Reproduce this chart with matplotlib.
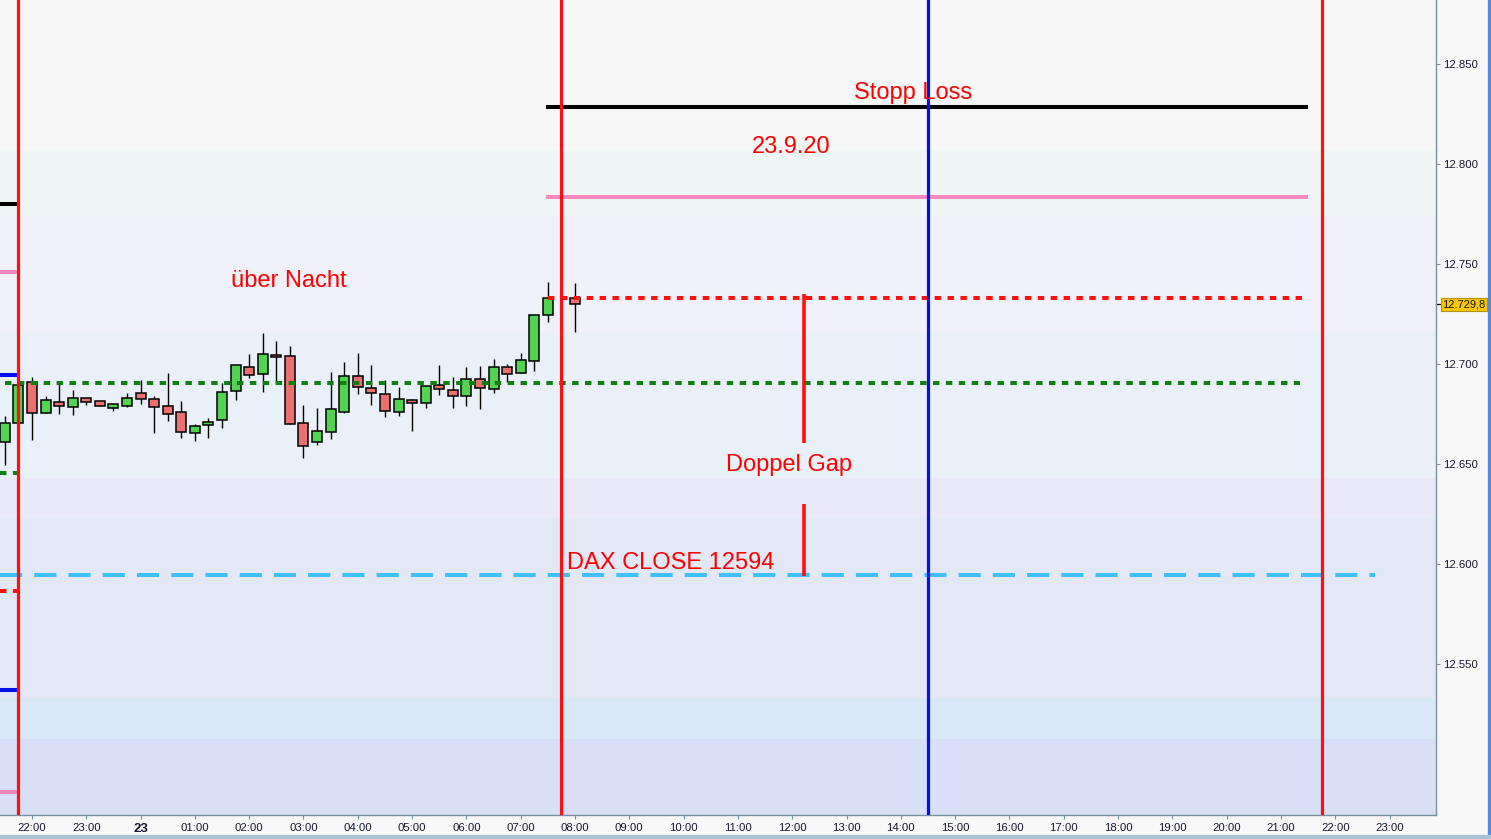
import matplotlib
matplotlib.use("Agg")
import matplotlib.pyplot as plt
import matplotlib.dates as mdates
import pandas as pd
from matplotlib.patches import Rectangle
from matplotlib.transforms import blended_transform_factory

plt.rcParams['font.family'] = ['Liberation Sans', 'DejaVu Sans']

# ---- data: DAX 15-min candles, 22./23.9.2020 ----
times = ["2020-09-22 21:30", "2020-09-22 21:45", "2020-09-22 22:00", "2020-09-22 22:15",
         "2020-09-22 22:30", "2020-09-22 22:45", "2020-09-22 23:00", "2020-09-22 23:15",
         "2020-09-22 23:30", "2020-09-22 23:45", "2020-09-23 00:00", "2020-09-23 00:15",
         "2020-09-23 00:30", "2020-09-23 00:45", "2020-09-23 01:00", "2020-09-23 01:15",
         "2020-09-23 01:30", "2020-09-23 01:45", "2020-09-23 02:00", "2020-09-23 02:15",
         "2020-09-23 02:30", "2020-09-23 02:45", "2020-09-23 03:00", "2020-09-23 03:15",
         "2020-09-23 03:30", "2020-09-23 03:45", "2020-09-23 04:00", "2020-09-23 04:15",
         "2020-09-23 04:30", "2020-09-23 04:45", "2020-09-23 05:00", "2020-09-23 05:15",
         "2020-09-23 05:30", "2020-09-23 05:45", "2020-09-23 06:00", "2020-09-23 06:15",
         "2020-09-23 06:30", "2020-09-23 06:45", "2020-09-23 07:00", "2020-09-23 07:15",
         "2020-09-23 07:30", "2020-09-23 08:00"]
opens = [12661.0, 12670.7, 12691.2, 12675.7, 12680.8, 12678.3, 12682.8, 12681.3, 12677.8, 12679.2,
         12685.3, 12682.3, 12678.8, 12676.2, 12665.3, 12669.3, 12671.8, 12686.3, 12698.3, 12694.8,
         12704.5, 12703.8, 12670.3, 12660.8, 12665.8, 12676.2, 12693.8, 12687.8, 12684.8, 12675.8,
         12681.8, 12680.3, 12689.3, 12686.8, 12683.8, 12692.3, 12687.3, 12698.3, 12695.3, 12701.3,
         12724.3, 12732.8]
highs = [12674.0, 12690.0, 12693.3, 12684.0, 12691.5, 12687.0, 12683.0, 12681.3, 12679.8, 12685.5,
         12692.0, 12684.0, 12695.3, 12681.5, 12670.0, 12673.2, 12690.3, 12699.3, 12705.0, 12715.5,
         12711.5, 12709.0, 12679.5, 12678.0, 12696.0, 12701.0, 12705.5, 12699.5, 12692.0, 12688.5,
         12682.7, 12688.8, 12699.5, 12693.5, 12698.5, 12698.8, 12702.5, 12699.8, 12705.3, 12724.3,
         12740.8, 12740.3]
lows = [12649.5, 12670.0, 12662.0, 12675.7, 12675.0, 12674.5, 12679.5, 12679.2, 12676.7, 12678.7,
        12680.2, 12665.7, 12671.7, 12662.8, 12661.7, 12663.2, 12668.2, 12682.2, 12693.2, 12686.2,
        12690.3, 12669.8, 12653.2, 12659.7, 12662.7, 12675.3, 12685.2, 12679.7, 12673.3, 12674.2,
        12666.7, 12678.2, 12684.7, 12678.2, 12679.2, 12677.7, 12685.7, 12690.8, 12695.3, 12696.3,
        12721.2, 12716.2]
closes = [12670.3, 12689.5, 12675.3, 12681.8, 12679.2, 12682.8, 12681.2, 12679.2, 12679.8, 12682.8,
          12682.7, 12678.3, 12675.2, 12665.8, 12668.8, 12670.8, 12685.8, 12699.3, 12694.3, 12704.8,
          12703.3, 12669.8, 12658.8, 12666.3, 12677.3, 12693.8, 12688.3, 12685.3, 12676.3, 12682.3,
          12680.3, 12688.8, 12687.3, 12683.8, 12692.3, 12687.8, 12698.3, 12694.8, 12701.8, 12724.3,
          12732.8, 12729.8]
last_price = 12729.8

# levels
stop_loss = 12828.5
pink_level = 12783.5
red_dotted_level = 12733.0
green_dotted_level = 12690.5
dax_close = 12594.5
# old levels ending at the first session line (left edge)
old_levels = [(12780.0, "black", "-"), (12746.0, "pink", "-"), (12694.5, "blue", "-"),
              (12645.5, "green", ":"), (12586.5, "red", ":"), (12537.0, "blue", "-"),
              (12486.0, "pink", "-")]
gap_upper = (12735.0, 12660.5)
gap_lower = (12630.0, 12594.0)

session_lines = ["2020-09-22 21:45", "2020-09-23 07:45", "2020-09-23 21:45"]
blue_line = "2020-09-23 14:30"
levels_start = "2020-09-23 07:30"
levels_end = "2020-09-23 21:28"
green_end = "2020-09-23 21:21"
close_end = "2020-09-23 22:44"
gap_time = "2020-09-23 12:13"

# background bands (price bounds, colour)
bands = [(12807, 12882, "#f7f7f8"), (12774, 12807, "#f0f6f6"), (12716, 12774, "#f0f0f8"),
         (12643, 12716, "#e9f0f8"), (12623, 12643, "#e8e8f6"), (12533, 12623, "#e2e8f6"),
         (12512.5, 12533, "#d8e8f8"), (12470, 12512.5, "#d8dff7")]

y_ticks = [12550, 12600, 12650, 12700, 12750, 12800, 12850]

colors = {"black": "black", "pink": "#f888c0", "blue": "#0010e8", "green": "#108010",
          "red": "#ff1010"}


def d(s):
    return mdates.date2num(pd.Timestamp(s))


fig = plt.figure(figsize=(14.91, 8.39), dpi=100, facecolor="#f8f8f8")
ax = fig.add_axes([0.0, 24 / 839, 1436 / 1491, 815 / 839])
ax.set_facecolor("#f7f7f8")

x_left = d("2020-09-22 21:24:40")
x_right = d("2020-09-23 23:51:20")
ax.set_xlim(x_left, x_right)
ax.set_ylim(12474.5, 12882)

for lo, hi, c in bands:
    ax.axhspan(lo, hi, color=c, zorder=0, lw=0)

# candles
xs = [d(t) for t in times]
body_w = 0.184 / 24
for x, o, h, l, c in zip(xs, opens, highs, lows, closes):
    ax.vlines(x, l, h, color="black", lw=1.0, zorder=3)
    fc = "#52d452" if c >= o else "#ec7070"
    ax.bar(x, abs(c - o), width=body_w, bottom=min(o, c), color=fc,
           edgecolor="black", linewidth=1.1, zorder=4)

dot = (0, (1.6, 1.6))

# level lines on the right side
ax.plot([d(levels_start), d(levels_end)], [stop_loss] * 2, color="black", lw=2.9, zorder=5)
ax.plot([d(levels_start), d(levels_end)], [pink_level] * 2, color=colors["pink"], lw=2.9, zorder=5)
ax.plot([d(levels_start), d(levels_end)], [red_dotted_level] * 2, color=colors["red"], lw=2.9,
        linestyle=dot, zorder=5)
ax.plot([x_left + 0.004, d(green_end)], [green_dotted_level] * 2, color=colors["green"], lw=2.9,
        linestyle=dot, zorder=5)
ax.plot([x_left, d(close_end)], [dax_close] * 2, color="#40c0f8", lw=2.9,
        linestyle=(0, (5.5, 3.0)), zorder=5)

# old levels at far left
for lvl, cname, ls in old_levels:
    ax.plot([x_left, d(session_lines[0])], [lvl] * 2, color=colors[cname], lw=2.9,
            linestyle=dot if ls == ":" else "-", zorder=5)

# double gap markers
ax.vlines(d(gap_time), gap_upper[1], gap_upper[0], color=colors["red"], lw=2.6, zorder=6)
ax.vlines(d(gap_time), gap_lower[1], gap_lower[0], color=colors["red"], lw=2.6, zorder=6)

# vertical time lines
for t in session_lines:
    ax.axvline(d(t), color=colors["red"], lw=2.3, zorder=7)
ax.axvline(d(blue_line), color="#0010e8", lw=2.3, zorder=7)

# annotations
tkw = dict(color="#ff0000", fontsize=17, va="baseline", ha="left", zorder=8)
ax.text(d("2020-09-23 13:08"), 12832.5, "Stopp Loss", **tkw)
ax.text(d("2020-09-23 11:15"), 12805.3, "23.9.20", **tkw)
ax.text(d("2020-09-23 01:40"), 12738.3, "über Nacht", **tkw)
ax.text(d("2020-09-23 10:47"), 12646.5, "Doppel Gap", **tkw)
ax.text(d("2020-09-23 07:51"), 12597.5, "DAX CLOSE 12594", **tkw)

# axes styling
for s in ["top", "left"]:
    ax.spines[s].set_visible(False)
for s in ["right", "bottom"]:
    ax.spines[s].set_color("#7890a0")
    ax.spines[s].set_linewidth(1.0)

ax.yaxis.tick_right()
ax.set_yticks(y_ticks)
ax.set_yticklabels([f"{v:,}".replace(",", ".") for v in y_ticks])
ax.tick_params(axis="y", length=3, width=0.8, color="#7890a0", labelsize=8.2,
               labelcolor="#181830", pad=2)

hours = pd.date_range("2020-09-22 22:00", "2020-09-23 23:00", freq="h")
ax.set_xticks([mdates.date2num(h) for h in hours])
xlabels = ["23" if (h.hour == 0) else h.strftime("%H:%M") for h in hours]
ax.set_xticklabels(xlabels)
ax.tick_params(axis="x", length=3, width=0.8, color="#7890a0", labelsize=8.2,
               labelcolor="#181830", pad=2.5)
for lab in ax.get_xticklabels():
    if lab.get_text() == "23":
        lab.set_fontweight("bold")
        lab.set_fontsize(9.5)

# last price tag
ytrans = blended_transform_factory(ax.transAxes, ax.transData)
ax.plot([1.0, 1.003], [last_price] * 2, transform=ytrans, color="black", lw=0.9, clip_on=False)
ax.text(1.0045, last_price, "12.729,8", transform=ytrans, va="center", ha="left",
        fontsize=8.0, color="#181818",
        bbox=dict(boxstyle="square,pad=0.15", fc="#f8c800", ec="#b89000", lw=0.8))

# window chrome
fig.patches.append(Rectangle((1488 / 1491, 0), 3 / 1491, 1, transform=fig.transFigure,
                             color="#5888d8", zorder=0))
fig.patches.append(Rectangle((0, 0), 1, 4 / 839, transform=fig.transFigure,
                             color="#a8c4d4", zorder=0))

fig.savefig("out.png", dpi=100, facecolor=fig.get_facecolor())
